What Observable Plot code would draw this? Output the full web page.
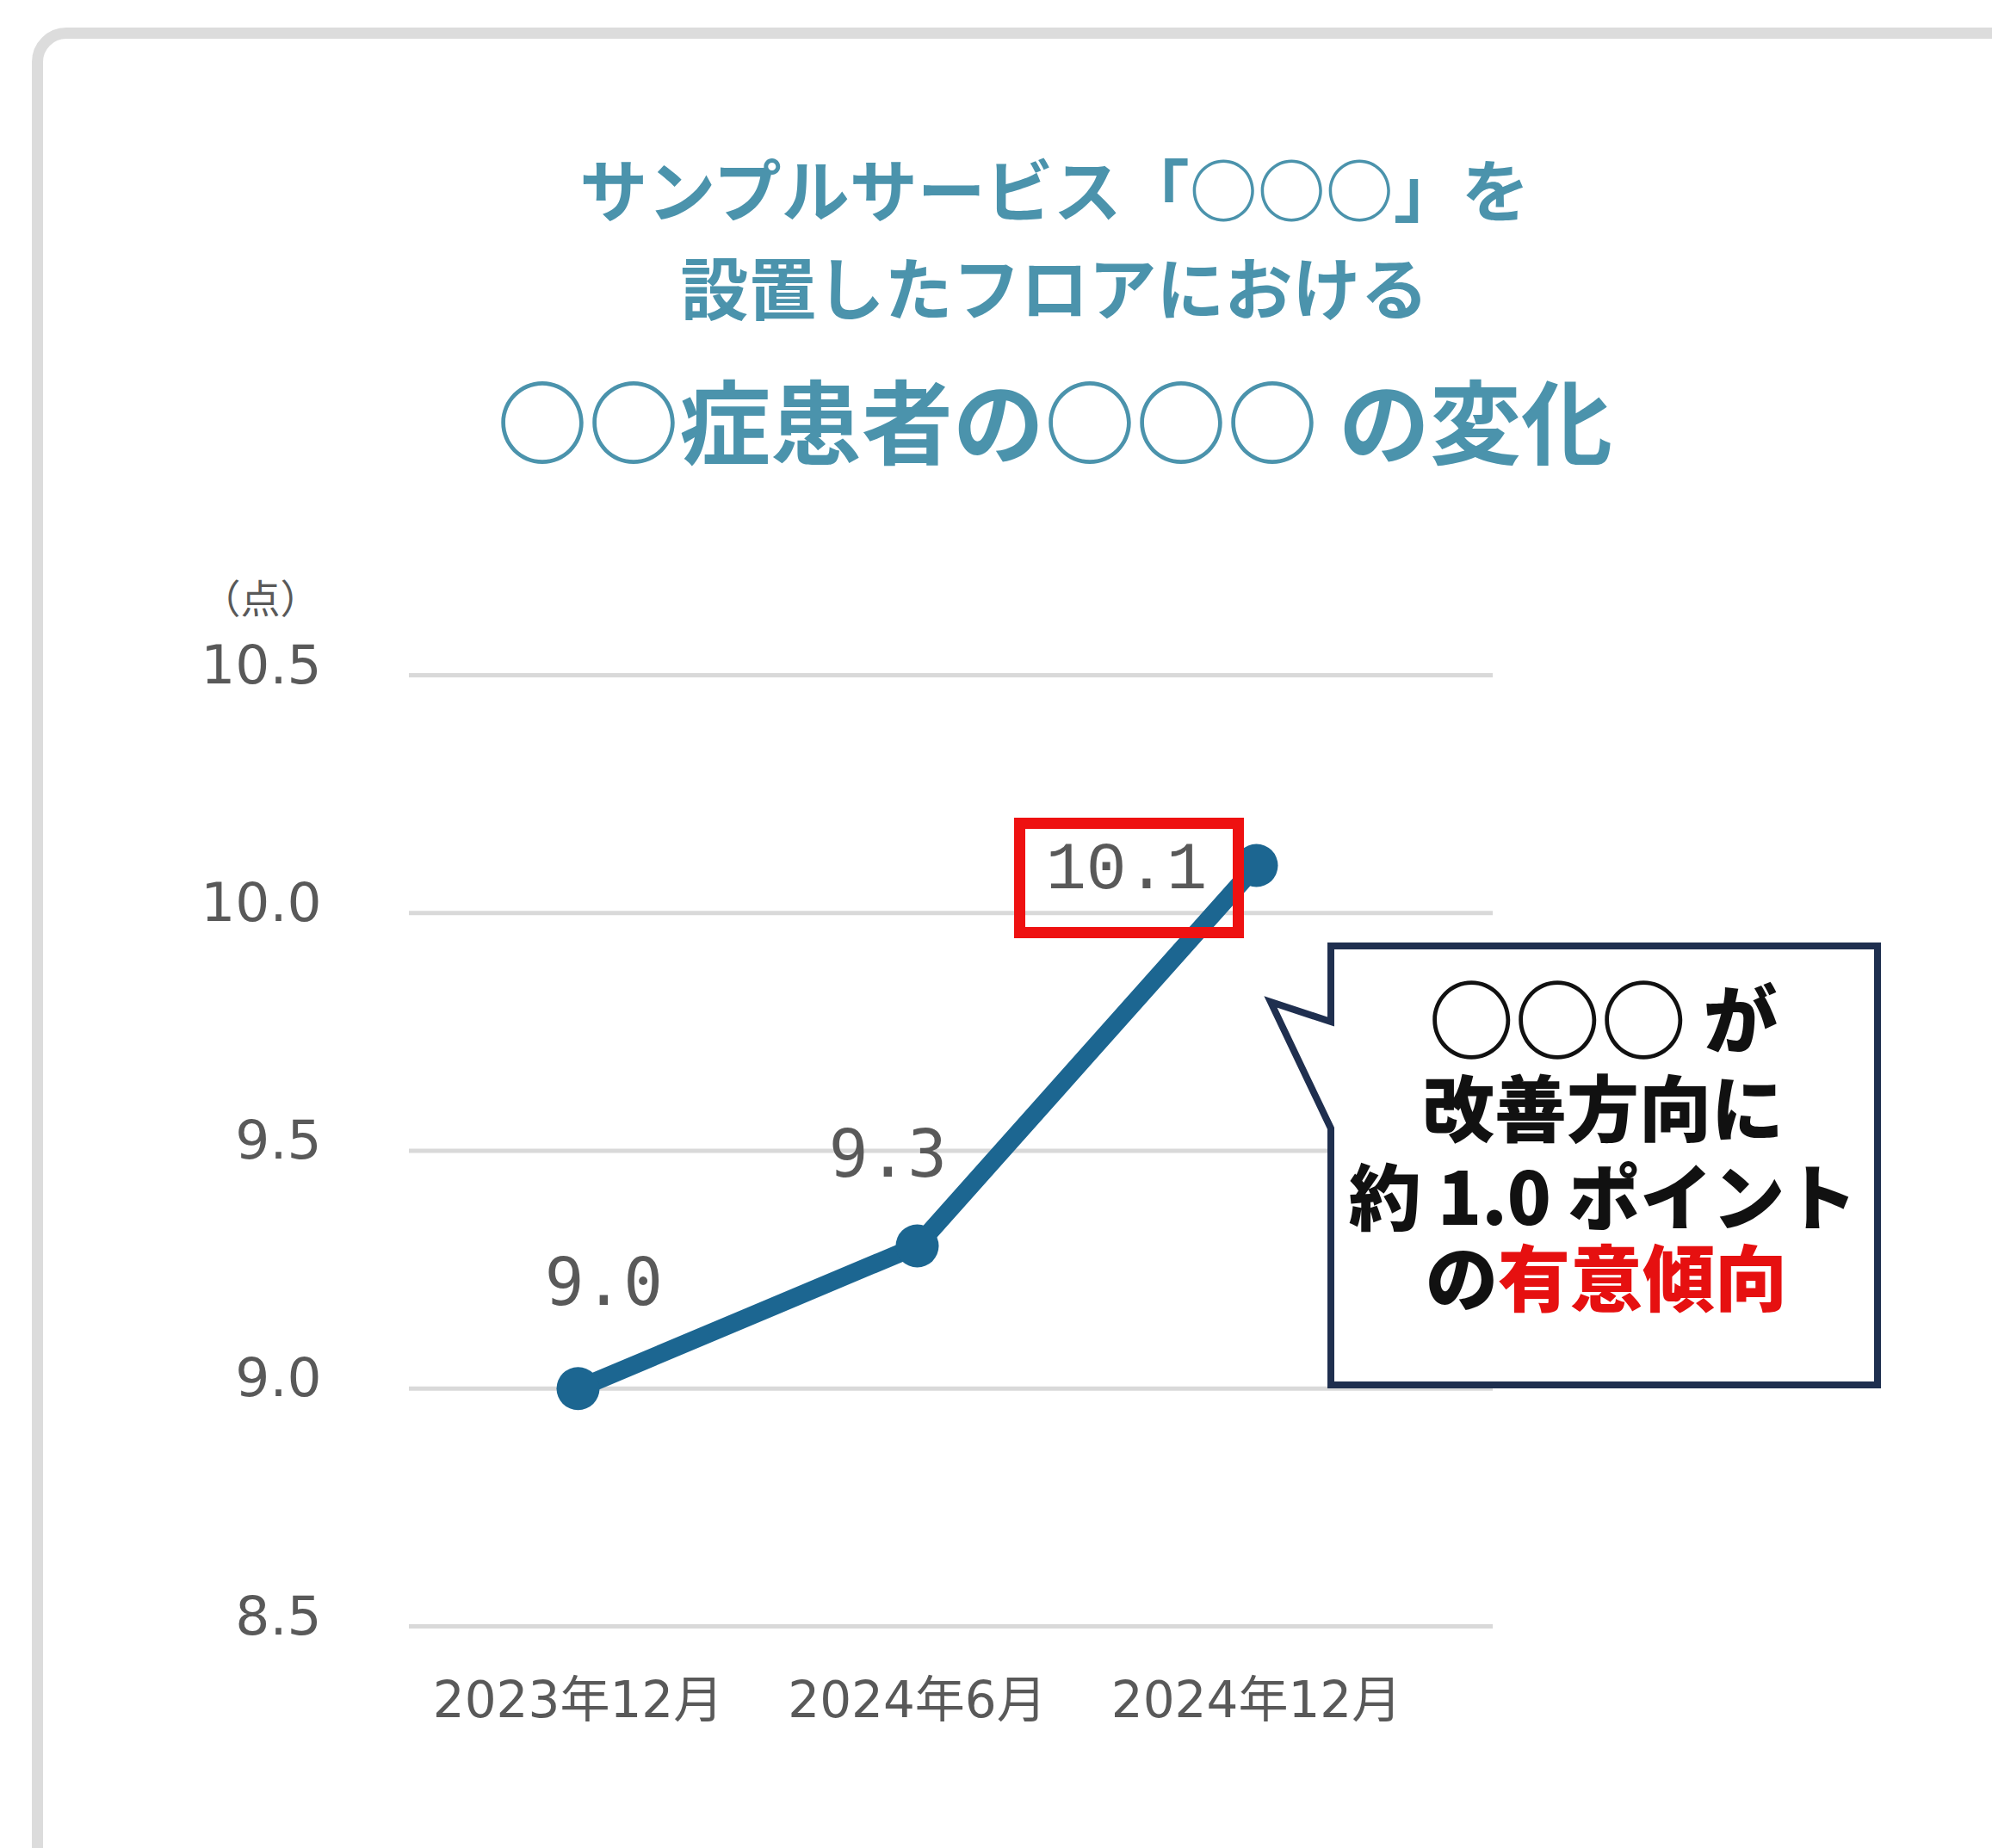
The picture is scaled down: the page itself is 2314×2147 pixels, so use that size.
<!DOCTYPE html>
<html>
<head>
<meta charset="utf-8">
<script src="https://cdn.jsdelivr.net/npm/d3@7"></script>
<script src="https://cdn.jsdelivr.net/npm/@observablehq/plot@0.6"></script>
<style>
  html, body { margin: 0; padding: 0; background: #fff; }
  body { width: 2314px; height: 2147px; position: relative; overflow: hidden; }
  #card { position: absolute; left: 37px; top: 32px; width: 2400px; height: 2220px;
          border: 13px solid #dcdcdc; border-radius: 40px; box-sizing: border-box; background: #fff; }
  .title { position: absolute; left: 0; width: 2450px; text-align: center;
           font-family: "Noto Sans CJK JP", sans-serif; font-weight: 700; color: #4b93ac;
           line-height: 1; white-space: nowrap; }
  #chart { position: absolute; left: 0; top: 650px; }
  #overlay { position: absolute; left: 0; top: 0; }
</style>
</head>
<body>
<div id="card"></div>
<div class="title" style="top:178px; font-size:79px;">サンプルサービス「○○○」を</div>
<div class="title" style="top:292px; font-size:79px;">設置したフロアにおける</div>
<div class="title" style="top:432px; font-size:106px;">○○症患者の○○○ の変化</div>
<div id="chart"></div>
<svg id="overlay" width="2314" height="2147"></svg>
<script>
// ---- data ----
const periods = ["2023年12月", "2024年6月", "2024年12月"];
const scores = [9.0, 9.3, 10.1];
const yTicks = [8.5, 9.0, 9.5, 10.0, 10.5];
const unitLabel = "（点）";
const calloutLines = ["○○○", "が", "改善方向に", "約 1.0 ポイント", "の", "有意傾向"];

const data = periods.map((p, i) => ({period: p, score: scores[i]}));

const lineColor = "#1c6691";
const labelFont = "'DejaVu Sans Mono', monospace";

const chart = Plot.plot({
  width: 2314,
  height: 1450,
  marginLeft: 475,
  marginRight: 580,
  marginTop: 134,
  marginBottom: 211,
  style: {fontFamily: "'DejaVu Sans', 'Noto Sans CJK JP', sans-serif", color: "#595959", background: "transparent"},
  x: {type: "point", domain: periods, range: [671, 1459], padding: 0},
  y: {domain: [8.5, 10.5]},
  marks: [
    Plot.ruleY(yTicks, {stroke: "#d9d9d9", strokeWidth: 5}),
    Plot.axisY({ticks: yTicks, tickSize: 0, tickPadding: 102, fontSize: 63, dy: -11,
                tickFormat: d => d.toFixed(1), label: null}),
    Plot.axisX({tickSize: 0, tickPadding: 64, fontSize: 58, label: null}),
    Plot.text([unitLabel], {frameAnchor: "top-left", textAnchor: "middle", lineAnchor: "middle",
               dx: -173, dy: -87, fontSize: 46,
               fill: "#595959", fontFamily: "'Noto Sans CJK JP', sans-serif"}),
    Plot.line(data, {x: "period", y: "score", stroke: lineColor, strokeWidth: 21, strokeLinejoin: "round"}),
    Plot.dot(data, {x: "period", y: "score", r: 25, fill: lineColor}),
    Plot.text(data, {filter: (d, i) => i === 0, x: "period", y: "score", text: d => d.score.toFixed(1),
                     dx: 30, dy: -122, fontSize: 76, fill: "#595959", fontFamily: labelFont}),
    Plot.text(data, {filter: (d, i) => i === 1, x: "period", y: "score", text: d => d.score.toFixed(1),
                     dx: -34, dy: -105, fontSize: 76, fill: "#595959", fontFamily: labelFont}),
    Plot.text(data, {filter: (d, i) => i === 2, x: "period", y: "score", text: d => d.score.toFixed(1),
                     dx: -151, dy: 2, fontSize: 78, fill: "#595959", fontFamily: "'Liberation Mono', monospace"})
  ]
});
document.getElementById("chart").appendChild(chart);

// ---- annotations (red highlight box and callout) ----
const ov = d3.select("#overlay");
ov.append("rect")
  .attr("x", 1184.5).attr("y", 956.5).attr("width", 254).attr("height", 127)
  .attr("fill", "none").attr("stroke", "#ee1111").attr("stroke-width", 13);

ov.append("path")
  .attr("d", "M1546,1099 H2181 V1609 H1546 V1311 L1476,1164 L1546,1187 Z")
  .attr("fill", "#fff").attr("stroke", "#1f2f4f").attr("stroke-width", 8).attr("stroke-linejoin", "miter");

const cf = "'Noto Sans CJK JP', sans-serif";
const t1 = ov.append("text").attr("x", 1862).attr("y", 1179).attr("text-anchor", "middle")
  .attr("dominant-baseline", "central").attr("font-family", cf).attr("font-weight", 900).attr("fill", "#111");
t1.append("tspan").attr("font-size", 100).text(calloutLines[0]);
t1.append("tspan").attr("font-size", 86).text(" " + calloutLines[1]);

ov.append("text").attr("x", 1862).attr("y", 1283).attr("text-anchor", "middle")
  .attr("dominant-baseline", "central").attr("font-family", cf).attr("font-weight", 900)
  .attr("font-size", 84).attr("fill", "#111").text(calloutLines[2]);

ov.append("text").attr("x", 1862).attr("y", 1386).attr("text-anchor", "middle")
  .attr("dominant-baseline", "central").attr("font-family", cf).attr("font-weight", 900)
  .attr("font-size", 84).attr("fill", "#111").text(calloutLines[3]);

const t4 = ov.append("text").attr("x", 1866).attr("y", 1480).attr("text-anchor", "middle")
  .attr("dominant-baseline", "central").attr("font-family", cf).attr("font-weight", 900)
  .attr("font-size", 84).attr("fill", "#111");
t4.append("tspan").text(calloutLines[4]);
t4.append("tspan").attr("fill", "#e61010").text(calloutLines[5]);
</script>
</body>
</html>
